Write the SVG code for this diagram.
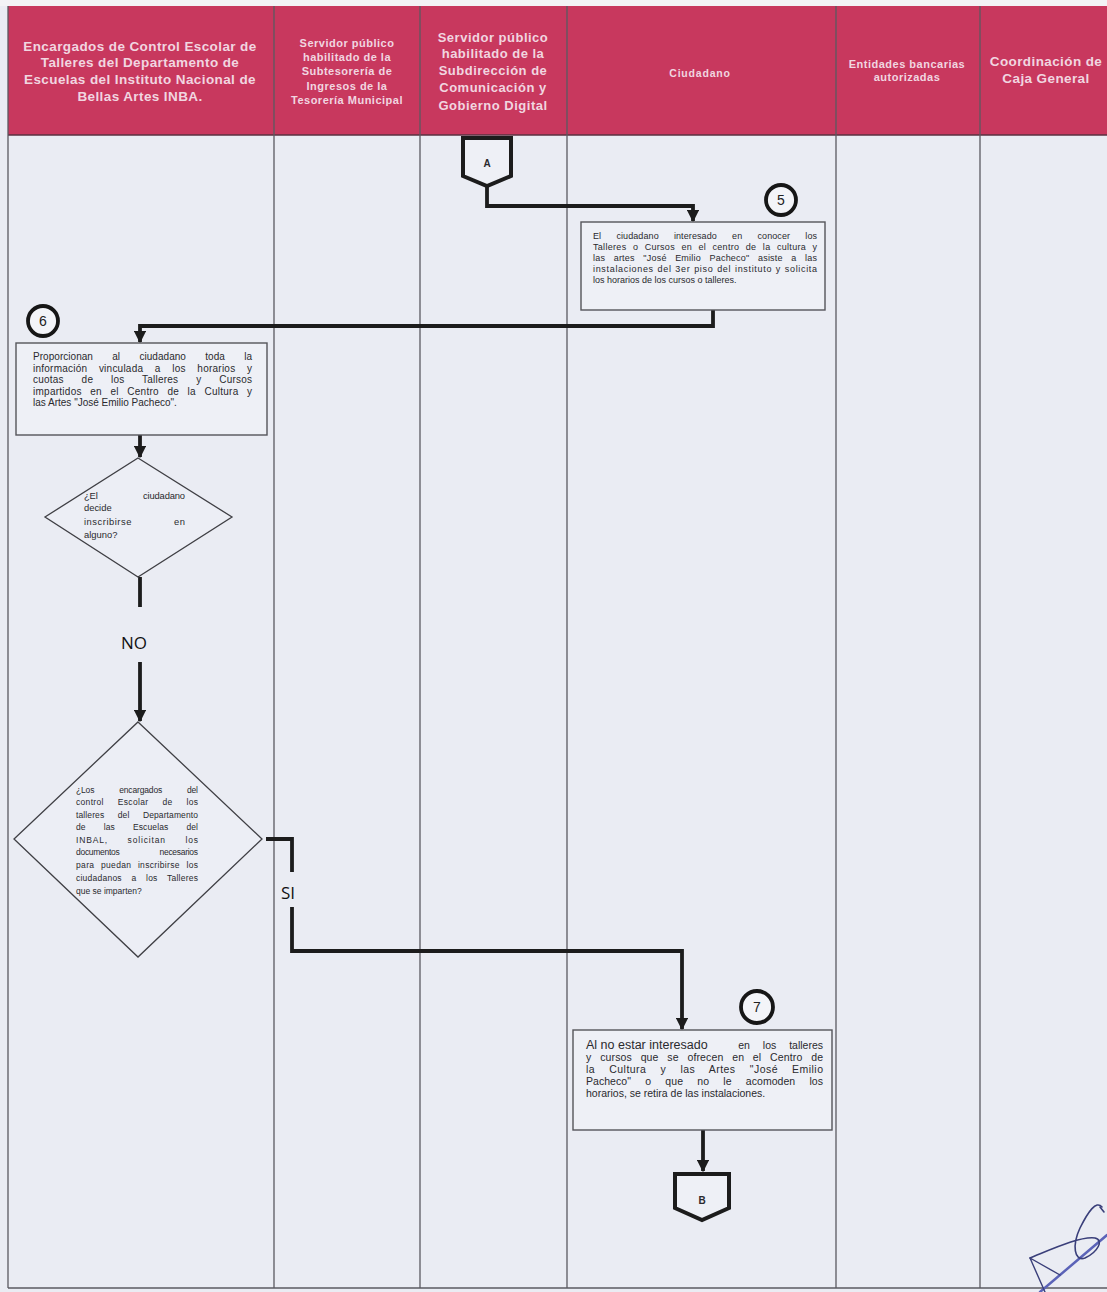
<svg xmlns="http://www.w3.org/2000/svg" width="1107" height="1292" viewBox="0 0 1107 1292">
<defs>
<marker id="ah" viewBox="0 0 10 10" refX="9" refY="5" markerWidth="3.2" markerHeight="3.4" orient="auto" markerUnits="strokeWidth">
<path d="M0,0 L10,5 L0,10 z" fill="#1c1c1c"/>
</marker>
<style>
.hd{font-family:"Liberation Sans",Arial,sans-serif;font-weight:bold;fill:#f1d6e0;text-anchor:middle}
.col{stroke:#5a5a60;stroke-width:1.3;fill:none}
.box{fill:#eef0f6;stroke:#55555a;stroke-width:1.4}
.dia{fill:#eceef5;stroke:#3f3f44;stroke-width:1.3}
.tx{font-family:"Liberation Sans",Arial,sans-serif;fill:#2a2a2e}
.cn{fill:none;stroke:#1c1c1c;stroke-width:3.8;stroke-linejoin:miter}
.circ{fill:#f3f4f8;stroke:#161616;stroke-width:3.8}
.num{font-family:"Liberation Sans",Arial,sans-serif;font-size:14px;fill:#222;text-anchor:middle}
.lbl{font-family:"Open Sans","Liberation Sans",sans-serif;font-size:17px;fill:#111;text-anchor:middle}
.off{fill:#eef0f6;stroke:#1c1c1c;stroke-width:4;stroke-linejoin:miter}
</style>
</defs>
<rect x="0" y="0" width="1107" height="1292" fill="#eaecf3"/>
<rect x="0" y="0" width="1107" height="6" fill="#f3f3f6"/>
<g id="header">
<rect x="8" y="6" width="1099" height="129" fill="#c8385e"/>
<line x1="8" y1="135" x2="1107" y2="135" stroke="#5a3040" stroke-width="1.5"/>
<text class="hd" font-size="13.5" letter-spacing="0.4"><tspan x="140" y="51">Encargados de Control Escolar de</tspan><tspan x="140" y="67">Talleres del Departamento de</tspan><tspan x="140" y="84">Escuelas del Instituto Nacional de</tspan><tspan x="140" y="101">Bellas Artes INBA.</tspan></text>
<text class="hd" font-size="11" letter-spacing="0.5"><tspan x="347" y="47">Servidor público</tspan><tspan x="347" y="61">habilitado de la</tspan><tspan x="347" y="75">Subtesorería de</tspan><tspan x="347" y="90">Ingresos de la</tspan><tspan x="347" y="104">Tesorería Municipal</tspan></text>
<text class="hd" font-size="13" letter-spacing="0.5"><tspan x="493" y="42">Servidor público</tspan><tspan x="493" y="58">habilitado de la</tspan><tspan x="493" y="75">Subdirección de</tspan><tspan x="493" y="92">Comunicación y</tspan><tspan x="493" y="110">Gobierno Digital</tspan></text>
<text class="hd" font-size="10.5" letter-spacing="0.8" x="700" y="77">Ciudadano</text>
<text class="hd" font-size="11" letter-spacing="0.5"><tspan x="907" y="68">Entidades bancarias</tspan><tspan x="907" y="81">autorizadas</tspan></text>
<text class="hd" font-size="13.5" letter-spacing="0.4"><tspan x="1046" y="66">Coordinación de</tspan><tspan x="1046" y="83">Caja General</tspan></text>
</g>
<g id="lanes">
<line class="col" x1="8" y1="6" x2="8" y2="1288"/>
<line class="col" x1="274" y1="6" x2="274" y2="1288"/>
<line class="col" x1="420" y1="6" x2="420" y2="1288"/>
<line class="col" x1="567" y1="6" x2="567" y2="1288"/>
<line class="col" x1="836" y1="6" x2="836" y2="1288"/>
<line class="col" x1="980" y1="6" x2="980" y2="1288"/>
<line class="col" x1="8" y1="1288" x2="1107" y2="1288"/>
</g>
<g id="connectors">
<path class="cn" d="M487,187 V206 H693 V221" marker-end="url(#ah)"/>
<path class="cn" d="M713,310 V326 H140 V342" marker-end="url(#ah)"/>
<path class="cn" d="M140,435 V457" marker-end="url(#ah)"/>
<path class="cn" d="M140,577 V607"/>
<path class="cn" d="M140,662 V721" marker-end="url(#ah)"/>
<path class="cn" d="M266,839 H292 V872"/>
<path class="cn" d="M292,907 V951 H682 V1029" marker-end="url(#ah)"/>
<path class="cn" d="M703,1130 V1171" marker-end="url(#ah)"/>
<text class="lbl" x="134" y="649">NO</text>
<text class="lbl" x="288" y="899">SI</text>
</g>
<g id="A">
<path class="off" d="M463,138 H511 V176 L487,186 L463,176 Z"/>
<text class="tx" x="487" y="167" font-size="10" font-weight="bold" text-anchor="middle">A</text>
</g>
<g id="step5">
<rect class="box" x="581" y="222" width="244" height="88"/>
<circle class="circ" cx="781" cy="200" r="15"/>
<text class="num" x="781" y="205">5</text>
<text class="tx" font-size="9"><tspan x="593" y="239" word-spacing="12.6" textLength="224" lengthAdjust="spacing">El ciudadano interesado en conocer los</tspan><tspan x="593" y="250" word-spacing="3.6" textLength="224" lengthAdjust="spacing">Talleres o Cursos en el centro de la cultura y</tspan><tspan x="593" y="261" word-spacing="5.8" textLength="224" lengthAdjust="spacing">las artes "José Emilio Pacheco" asiste a las</tspan><tspan x="593" y="272" word-spacing="0.6" textLength="224" lengthAdjust="spacing">instalaciones del 3er piso del instituto y solicita</tspan><tspan x="593" y="283">los horarios de los cursos o talleres.</tspan></text>
</g>
<g id="step6">
<rect class="box" x="16" y="343" width="251" height="92"/>
<circle class="circ" cx="43" cy="321" r="15"/>
<text class="num" x="43" y="326">6</text>
<text class="tx" font-size="10"><tspan x="33" y="360" word-spacing="16.5" textLength="219" lengthAdjust="spacing">Proporcionan al ciudadano toda la</tspan><tspan x="33" y="372" word-spacing="8.6" textLength="219" lengthAdjust="spacing">información vinculada a los horarios y</tspan><tspan x="33" y="383" word-spacing="14.8" textLength="219" lengthAdjust="spacing">cuotas de los Talleres y Cursos</tspan><tspan x="33" y="395" word-spacing="5.5" textLength="219" lengthAdjust="spacing">impartidos en el Centro de la Cultura y</tspan><tspan x="33" y="406">las Artes "José Emilio Pacheco".</tspan></text>
</g>
<g id="decision1">
<polygon class="dia" points="138,458 232,517 138,577 45,517"/>
<text class="tx" font-size="9.4"><tspan x="84" y="499" word-spacing="43" textLength="101" lengthAdjust="spacing">¿El ciudadano</tspan><tspan x="84" y="511">decide</tspan><tspan x="84" y="525" word-spacing="39" textLength="101" lengthAdjust="spacing">inscribirse en</tspan><tspan x="84" y="538">alguno?</tspan></text>
</g>
<g id="decision2">
<polygon class="dia" points="138,722 262,839 138,957 14,839"/>
<text class="tx" font-size="8.5"><tspan x="76" y="793" word-spacing="22.7" textLength="122" lengthAdjust="spacing">¿Los encargados del</tspan><tspan x="76" y="805" word-spacing="11.3" textLength="122" lengthAdjust="spacing">control Escolar de los</tspan><tspan x="76" y="818" word-spacing="11" textLength="122" lengthAdjust="spacing">talleres del Departamento</tspan><tspan x="76" y="830" word-spacing="15.5" textLength="122" lengthAdjust="spacing">de las Escuelas del</tspan><tspan x="76" y="843" word-spacing="16.4" textLength="122" lengthAdjust="spacing">INBAL, solicitan los</tspan><tspan x="76" y="855" word-spacing="38" textLength="122" lengthAdjust="spacing">documentos necesarios</tspan><tspan x="76" y="868" word-spacing="3.8" textLength="122" lengthAdjust="spacing">para puedan inscribirse los</tspan><tspan x="76" y="881" word-spacing="7" textLength="122" lengthAdjust="spacing">ciudadanos a los Talleres</tspan><tspan x="76" y="894">que se imparten?</tspan></text>
</g>
<g id="step7">
<rect class="box" x="573" y="1030" width="259" height="100"/>
<circle class="circ" cx="757" cy="1007" r="16"/>
<text class="num" x="757" y="1012">7</text>
<text class="tx" font-size="12.5" x="586" y="1049">Al no estar interesado</text>
<text class="tx" font-size="10.5" x="823" y="1049" text-anchor="end" word-spacing="10">en los talleres</text>
<text class="tx" font-size="10.5"><tspan x="586" y="1061" word-spacing="5.7" textLength="237" lengthAdjust="spacing">y cursos que se ofrecen en el Centro de</tspan><tspan x="586" y="1073" word-spacing="10.8" textLength="237" lengthAdjust="spacing">la Cultura y las Artes "José Emilio</tspan><tspan x="586" y="1085" word-spacing="11.3" textLength="237" lengthAdjust="spacing">Pacheco" o que no le acomoden los</tspan><tspan x="586" y="1097">horarios, se retira de las instalaciones.</tspan></text>
</g>
<g id="B">
<path class="off" d="M675,1174 H729 V1208 L702,1220 L675,1208 Z"/>
<text class="tx" x="702" y="1204" font-size="10" font-weight="bold" text-anchor="middle">B</text>
</g>
<g id="signature" fill="none" stroke-linecap="round">
<path d="M1040,1292 L1107,1235" stroke="#5b63b8" stroke-width="2.5"/>
<path d="M1102,1207 C1096,1200 1088,1212 1080,1228 C1072,1245 1074,1262 1085,1258 C1098,1252 1104,1240 1095,1238 C1080,1236 1050,1250 1030,1258" stroke="#3a3f7a" stroke-width="1.6"/>
<path d="M1030,1258 L1045,1292 M1030,1258 L1060,1275" stroke="#3a3f7a" stroke-width="1.4"/>
<path d="M1100,1207 L1104,1212" stroke="#3a3f7a" stroke-width="1.6"/>
</g>
</svg>
